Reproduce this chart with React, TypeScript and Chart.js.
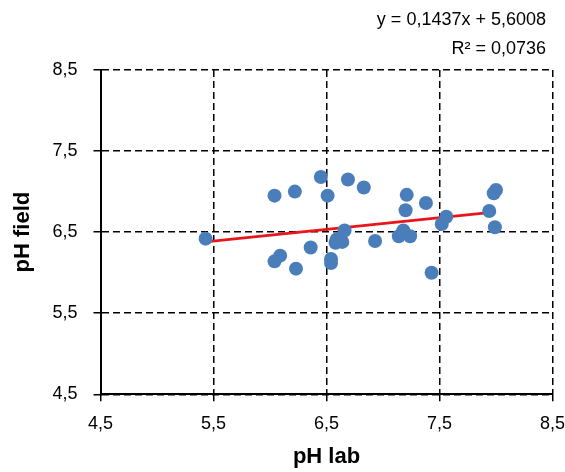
import React, { useEffect, useRef } from "react";
import { Chart, registerables } from "chart.js";

Chart.register(...registerables);

const phLab = [5.43, 6.04, 6.04, 6.09, 6.22, 6.23, 6.36, 6.45, 6.51, 6.54, 6.54, 6.58, 6.59, 6.64, 6.66, 6.69, 6.83, 6.93, 7.14, 7.18, 7.2, 7.21, 7.24, 7.38, 7.43, 7.52, 7.56, 7.94, 7.98, 8.0, 7.99];
const phField = [6.42, 6.95, 6.14, 6.21, 7.0, 6.05, 6.31, 7.18, 6.95, 6.17, 6.12, 6.37, 6.41, 6.38, 6.52, 7.15, 7.05, 6.39, 6.45, 6.52, 6.77, 6.96, 6.45, 6.86, 6.0, 6.6, 6.69, 6.76, 6.98, 7.02, 6.56];
const slope = 0.1437;
const intercept = 5.6008;
const equationLines = ["y = 0,1437x + 5,6008", "R² = 0,0736"];
const axisTicks = [4.5, 5.5, 6.5, 7.5, 8.5];

const FONT = "Arial, 'Liberation Sans', sans-serif";
const fmt = (v: number) => v.toFixed(1).replace(".", ",");

export default function App() {
  const ref = useRef<HTMLCanvasElement | null>(null);

  useEffect(() => {
    if (!ref.current) return;
    const points = phLab.map((x, i) => ({ x, y: phField[i] }));
    const xMin = Math.min(...phLab);
    const xMax = Math.max(...phLab);
    const trend = [
      { x: xMin, y: slope * xMin + intercept },
      { x: xMax, y: slope * xMax + intercept },
    ];

    const equationPlugin = {
      id: "equation",
      afterDraw(chart: any) {
        const ctx = chart.ctx;
        ctx.save();
        ctx.font = `18px ${FONT}`;
        ctx.fillStyle = "#000";
        ctx.textAlign = "right";
        ctx.textBaseline = "alphabetic";
        ctx.fillText(equationLines[0], 546, 25);
        ctx.fillText(equationLines[1], 546, 53.5);
        ctx.restore();
      },
    };

    const scaleCommon = (title: string) => ({
      type: "linear" as const,
      min: axisTicks[0],
      max: axisTicks[axisTicks.length - 1],
      afterBuildTicks: (scale: any) => {
        scale.ticks = axisTicks.map((v) => ({ value: v }));
      },
      ticks: {
        stepSize: 1,
        color: "#000",
        font: { family: FONT, size: 18 },
        callback: (v: any) => fmt(Number(v)),
      },
      grid: {
        color: "#000",
        lineWidth: 1.5,
        drawTicks: true,
        tickLength: 7,
        tickColor: "#000",
        tickWidth: 1.5,
      },
      border: { display: true, color: "#000", width: 2, dash: [7, 4] },
      title: {
        display: true,
        text: title,
        color: "#000",
        font: { family: FONT, size: 22, weight: "bold" as const },
      },
    });

    const xScale: any = scaleCommon("pH lab");
    xScale.position = "bottom";
    xScale.ticks.padding = 12;
    xScale.title.padding = { top: 0, bottom: 2 };
    xScale.afterFit = (s: any) => {
      s.height = 77.7;
      s.paddingLeft = 0;
      s.paddingRight = 0;
    };
    const yScale: any = scaleCommon("pH field");
    yScale.position = "left";
    yScale.ticks.padding = 16;
    yScale.title.padding = { top: 10, bottom: 0 };
    yScale.afterFit = (s: any) => {
      s.width = 100.5;
      s.paddingTop = 0;
      s.paddingBottom = 0;
    };

    const chart = new Chart(ref.current, {
      type: "scatter",
      data: {
        datasets: [
          {
            label: "pH",
            data: points,
            backgroundColor: "#4A7EBB",
            borderColor: "#4A7EBB",
            borderWidth: 0,
            pointRadius: 7,
            pointHoverRadius: 7,
            order: 0,
          },
          {
            type: "line" as const,
            label: "trend",
            data: trend,
            borderColor: "#E8161B",
            borderWidth: 2.8,
            pointRadius: 0,
            showLine: true,
            fill: false,
            order: 1,
          } as any,
        ],
      },
      options: {
        responsive: false,
        animation: false,
        layout: { padding: { top: 70, right: 12.5, left: 0, bottom: 0 } },
        plugins: {
          legend: { display: false },
          tooltip: { enabled: false },
        },
        scales: { x: xScale, y: yScale },
      },
      plugins: [equationPlugin],
    });
    return () => chart.destroy();
  }, []);

  return (
    <div style={{ position: "fixed", left: 0, top: 0, width: 565, height: 472, background: "#fff" }}>
      <canvas ref={ref} width={565} height={472} />
    </div>
  );
}
